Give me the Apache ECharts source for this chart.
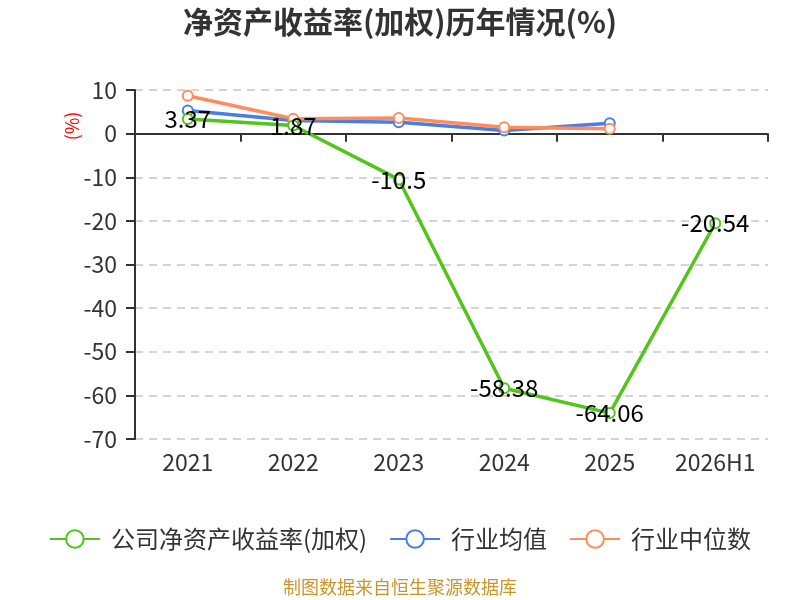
<!DOCTYPE html>
<html>
<head>
<meta charset="utf-8">
<script src="https://cdn.jsdelivr.net/npm/echarts@6/dist/echarts.min.js"></script>
<style>html,body{margin:0;padding:0;background:#fff;}#main{width:800px;height:600px;}</style>
</head>
<body>
<div id="main"></div>
<script>
var categories = ['2021', '2022', '2023', '2024', '2025', '2026H1'];
var companyRoe = [3.37, 1.87, -10.5, -58.38, -64.06, -20.54];
var industryAvg = [5.3, 3.0, 2.6, 0.7, 2.4];
var industryMedian = [8.7, 3.4, 3.6, 1.45, 1.1];
var yTicks = { min: -70, max: 10, interval: 10 };

var FONT = '"Microsoft YaHei","Noto Sans CJK SC","Noto Sans",sans-serif';
var chart = echarts.init(document.getElementById('main'));
chart.setOption({
  animation: false,
  textStyle: { fontFamily: FONT },
  title: {
    text: '净资产收益率(加权)历年情况(%)',
    left: 'center', top: 2,
    textStyle: { fontSize: 30, fontWeight: 'bold', color: '#333', fontFamily: FONT }
  },
  legend: {
    top: 522, left: 'center',
    itemWidth: 50, itemHeight: 22, itemGap: 22,
    textStyle: { fontSize: 24, color: '#333', fontFamily: FONT, padding: [0, 0, 0, 6] },
    data: ['公司净资产收益率(加权)', '行业均值', '行业中位数']
  },
  grid: { left: 135, right: 32, top: 90, bottom: 161 },
  graphic: [
    { type: 'text', x: 72, y: 126, rotation: Math.PI / 2,
      style: { text: '(%)', fill: '#ff0000', fontSize: 18, fontFamily: FONT, align: 'center', verticalAlign: 'middle' } },
    { type: 'text', left: 'center', top: 578,
      style: { text: '制图数据来自恒生聚源数据库', fill: '#c9952b', fontSize: 18, fontFamily: FONT } }
  ],
  xAxis: [
    { type: 'category', data: categories, boundaryGap: true,
      axisLine: { onZero: true, lineStyle: { color: '#333', width: 2 } },
      axisTick: { show: true, length: 8, lineStyle: { color: '#333', width: 2 } },
      axisLabel: { show: false }, splitLine: { show: false } },
    { type: 'category', data: categories, position: 'bottom', boundaryGap: true,
      axisLine: { show: false, onZero: false }, axisTick: { show: false },
      axisLabel: { fontSize: 23, color: '#333', margin: 12, fontFamily: FONT } }
  ],
  yAxis: {
    type: 'value', min: yTicks.min, max: yTicks.max, interval: yTicks.interval,
    axisLine: { show: true, lineStyle: { color: '#333', width: 2 } },
    axisTick: { show: true, length: 9, lineStyle: { color: '#333', width: 2 } },
    axisLabel: { fontSize: 23, color: '#333', margin: 18, fontFamily: FONT },
    splitLine: { show: true, lineStyle: { color: '#c8c8c8', type: [8, 6], width: 1.5 } }
  },
  series: [
    { name: '公司净资产收益率(加权)', type: 'line', xAxisIndex: 0, data: companyRoe,
      symbol: 'emptyCircle', symbolSize: 10,
      itemStyle: { color: '#52c41a' }, lineStyle: { width: 3.5, color: '#52c41a' },
      label: { show: true, position: 'inside', fontSize: 24, color: '#000', fontFamily: FONT },
      z: 3 },
    { name: '行业均值', type: 'line', xAxisIndex: 0, data: industryAvg,
      symbol: 'emptyCircle', symbolSize: 10,
      itemStyle: { color: '#4a7ee6' }, lineStyle: { width: 3.5, color: '#4a7ee6' }, z: 2 },
    { name: '行业中位数', type: 'line', xAxisIndex: 0, data: industryMedian,
      symbol: 'emptyCircle', symbolSize: 10,
      itemStyle: { color: '#ff8c5a' }, lineStyle: { width: 3.5, color: '#ff8c5a' }, z: 2 }
  ]
});
</script>
</body>
</html>
